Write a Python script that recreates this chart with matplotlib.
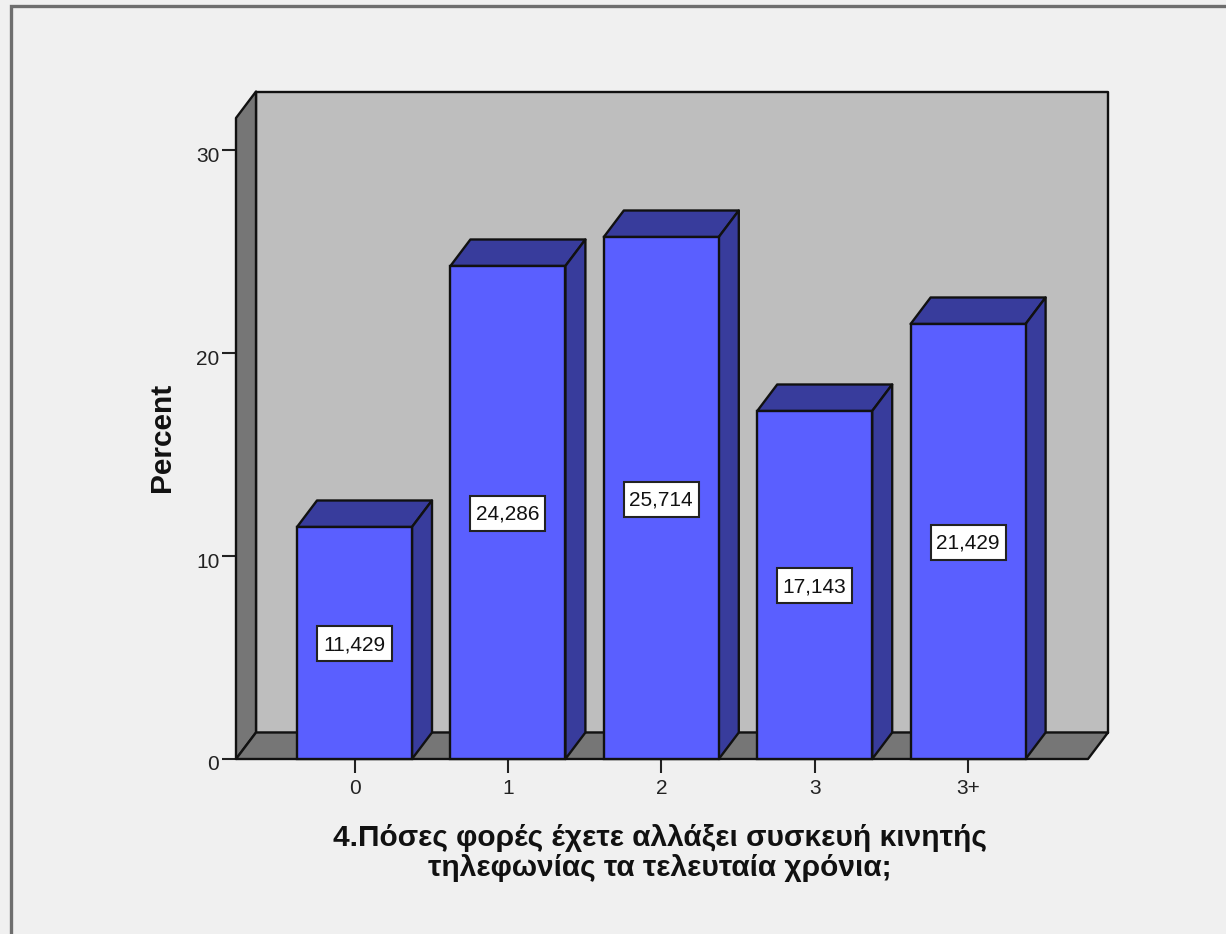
import matplotlib
matplotlib.use("Agg")
import matplotlib.pyplot as plt
from matplotlib.patches import Polygon, Rectangle
from matplotlib.transforms import ScaledTranslation

categories = ["0", "1", "2", "3", "3+"]
percent = [11.429, 24.286, 25.714, 17.143, 21.429]
value_labels = ["11,429", "24,286", "25,714", "17,143", "21,429"]
y_ticks = [0, 10, 20, 30]
x_title = "4.Πόσες φορές έχετε αλλάξει συσκευή κινητής\nτηλεφωνίας τα τελευταία χρόνια;"
y_title = "Percent"

W, H = 1226, 934
plt.rcParams["font.family"] = ["Liberation Sans", "DejaVu Sans"]

BG = "#f0f0f0"
WALL = "#bebebe"
SHADE = "#767676"
FACE = "#5a5fff"
DARK = "#383c9c"
INK = "#111111"
LW = 1.7

fig = plt.figure(figsize=(W / 100, H / 100), dpi=100, facecolor=BG)

# Chart frame: runs off the right and bottom edges
fig.add_artist(Rectangle((11 / W, -0.05), 1.1, (934 - 6) / H + 0.05, transform=fig.transFigure,
                         fill=False, ec="#6e6e6e", lw=2.4))

left, right, base, top = 236, 1088, 759, 118
ax = fig.add_axes([left / W, 1 - base / H, (right - left) / W, (base - top) / H])
ax.set_facecolor("none")
step = 153.4
cx0 = 354.5
ax.set_xlim((left - cx0) / step, (right - cx0) / step)
unit = 20.3
ax.set_ylim(0, (base - top) / unit)
for s in ax.spines.values():
    s.set_visible(False)

xmin, xmax = ax.get_xlim()
ymax = ax.get_ylim()[1]
dx = 20 / step
dy = 26.5 / unit
half = 57.5 / step


def poly(pts, color, z):
    ax.add_patch(Polygon(pts, closed=True, fc=color, ec=INK, lw=LW, joinstyle="round",
                         clip_on=False, zorder=z))


# Box: back wall, left wall and floor
poly([(xmin + dx, dy), (xmax + dx, dy), (xmax + dx, ymax + dy), (xmin + dx, ymax + dy)], WALL, 1)
poly([(xmin, 0), (xmin + dx, dy), (xmin + dx, ymax + dy), (xmin, ymax)], SHADE, 2)
poly([(xmin, 0), (xmax, 0), (xmax + dx, dy), (xmin + dx, dy)], SHADE, 2)

# Extruded bars with boxed value labels centred on each bar
for i, v in enumerate(percent):
    l, r = i - half, i + half
    poly([(l, v), (r, v), (r + dx, v + dy), (l + dx, v + dy)], DARK, 3)
    poly([(r, 0), (r + dx, dy), (r + dx, v + dy), (r, v)], DARK, 3)
    ax.bar(i, v, width=2 * half, color=FACE, edgecolor=INK, linewidth=LW, zorder=4, clip_on=False)
    anchor = fig.dpi_scale_trans + ScaledTranslation(i, v / 2, ax.transData)
    ax.add_patch(Rectangle((-0.375, -0.185), 0.75, 0.35, transform=anchor, fc="white",
                           ec="#222222", lw=1.5, zorder=5, clip_on=False))
    ax.annotate(value_labels[i], (i, v / 2), xytext=(0, -1.4), textcoords="offset points",
                ha="center", va="center", fontsize=15, color="#111111", zorder=6)

ax.set_xticks(range(len(categories)))
ax.set_xticklabels(categories)
ax.set_yticks(y_ticks)
ax.tick_params(axis="both", length=10, width=1.5, color="#222222", labelsize=15, labelcolor="#222222", pad=2)
ax.tick_params(axis="x", pad=4.5)

# Value-axis labels sit slightly below their ticks
shift_down = ScaledTranslation(0, -4 / 100, fig.dpi_scale_trans)
for label in ax.get_yticklabels():
    label.set_transform(label.get_transform() + shift_down)

fig.text(162 / W, 1 - 437 / H, y_title, rotation=90, ha="center", va="center",
         fontsize=21.5, fontweight="bold", color="#111111")
fig.text(660 / W, 1 - 853 / H, x_title, ha="center", va="center", fontsize=21.5, fontweight="bold",
         color="#111111", linespacing=1.06)

fig.savefig("out.png", dpi=100, facecolor=BG)
